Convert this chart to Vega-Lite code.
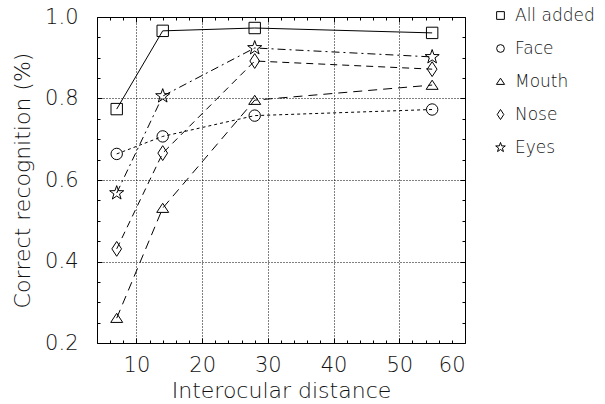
{
  "$schema": "https://vega.github.io/schema/vega-lite/v6.json",
  "width": 368,
  "height": 326,
  "autosize": {"type": "none"},
  "padding": {"left": 97, "top": 17, "right": 140, "bottom": 61},
  "background": "white",
  "config": {
    "view": {"stroke": "black", "strokeWidth": 1},
    "font": "DejaVu Sans",
    "axis": {"domain": false, "labelColor": "#111", "titleColor": "#111", "titleFontWeight": 200, "labelFontWeight": 200, "labelFont": "DejaVu Sans", "titleFont": "DejaVu Sans"}
  },
  "data": {
    "values": [
      {"series": "All added", "x": 7, "y": 0.774},
      {"series": "All added", "x": 14, "y": 0.966},
      {"series": "All added", "x": 28, "y": 0.973},
      {"series": "All added", "x": 55, "y": 0.961},
      {"series": "Face", "x": 7, "y": 0.664},
      {"series": "Face", "x": 14, "y": 0.707},
      {"series": "Face", "x": 28, "y": 0.758},
      {"series": "Face", "x": 55, "y": 0.773},
      {"series": "Mouth", "x": 7, "y": 0.261},
      {"series": "Mouth", "x": 14, "y": 0.531},
      {"series": "Mouth", "x": 28, "y": 0.796},
      {"series": "Mouth", "x": 55, "y": 0.833},
      {"series": "Nose", "x": 7, "y": 0.431},
      {"series": "Nose", "x": 14, "y": 0.666},
      {"series": "Nose", "x": 28, "y": 0.892},
      {"series": "Nose", "x": 55, "y": 0.872},
      {"series": "Eyes", "x": 7, "y": 0.568},
      {"series": "Eyes", "x": 14, "y": 0.806},
      {"series": "Eyes", "x": 28, "y": 0.924},
      {"series": "Eyes", "x": 55, "y": 0.902}
    ]
  },
  "resolve": {"axis": {"x": "independent", "y": "independent"}},
  "layer": [
    {
      "transform": [{"filter": "datum.series == 'All added'"}],
      "mark": {"type": "line", "color": "black", "strokeWidth": 1},
      "encoding": {
        "x": {
          "field": "x", "type": "quantitative",
          "scale": {"domain": [4, 60], "nice": false, "zero": false},
          "axis": {
            "orient": "bottom",
            "title": "Interocular distance",
            "titleFontSize": 22, "titlePadding": 5,
            "labelFontSize": 21, "labelPadding": 16,
            "values": [4,6,8,10,12,14,16,18,20,22,24,26,28,30,32,34,36,38,40,42,44,46,48,50,52,54,56,58,60],
            "labelExpr": "datum.value % 10 == 0 ? datum.label : ''",
            "tickColor": "black",
            "tickSize": {"condition": {"test": "datum.value % 10 == 0", "value": -5}, "value": -3},
            "grid": true,
            "gridColor": "black",
            "gridDash": [1, 2],
            "gridOpacity": {"condition": {"test": "datum.value % 10 == 0 && datum.value < 60", "value": 1}, "value": 0}
          }
        },
        "y": {
          "field": "y", "type": "quantitative",
          "scale": {"domain": [0.2, 1.0], "nice": false, "zero": false},
          "axis": {
            "orient": "left",
            "title": "Correct recognition (%)",
            "titleFontSize": 22, "titlePadding": 10,
            "labelFontSize": 21, "labelPadding": 24,
            "values": [0.2,0.25,0.3,0.35,0.4,0.45,0.5,0.55,0.6,0.65,0.7,0.75,0.8,0.85,0.9,0.95,1.0],
            "format": ".1f",
            "labelExpr": "abs(datum.value*10 - round(datum.value*10)) < 0.01 && round(datum.value*10) % 2 == 0 ? datum.label : ''",
            "tickColor": "black",
            "tickSize": {"condition": {"test": "abs(datum.value*10 - round(datum.value*10)) < 0.01 && round(datum.value*10) % 2 == 0", "value": -5}, "value": -3},
            "grid": true,
            "gridColor": "black",
            "gridDash": [1, 2],
            "gridOpacity": {"condition": {"test": "abs(datum.value*10 - round(datum.value*10)) < 0.01 && round(datum.value*10) % 2 == 0 && datum.value > 0.21 && datum.value < 0.99", "value": 1}, "value": 0}
          }
        }
      }
    },
    {
      "transform": [{"filter": "datum.series == 'Face'"}],
      "mark": {"type": "line", "color": "black", "strokeWidth": 1, "strokeDash": [3, 3]},
      "encoding": {
        "x": {"field": "x", "type": "quantitative", "axis": null},
        "y": {"field": "y", "type": "quantitative", "axis": null}
      }
    },
    {
      "transform": [{"filter": "datum.series == 'Mouth'"}],
      "mark": {"type": "line", "color": "black", "strokeWidth": 1, "strokeDash": [9, 6]},
      "encoding": {
        "x": {"field": "x", "type": "quantitative", "axis": null},
        "y": {"field": "y", "type": "quantitative", "axis": null}
      }
    },
    {
      "transform": [{"filter": "datum.series == 'Nose'"}],
      "mark": {"type": "line", "color": "black", "strokeWidth": 1, "strokeDash": [7, 5]},
      "encoding": {
        "x": {"field": "x", "type": "quantitative", "axis": null},
        "y": {"field": "y", "type": "quantitative", "axis": null}
      }
    },
    {
      "transform": [{"filter": "datum.series == 'Eyes'"}],
      "mark": {"type": "line", "color": "black", "strokeWidth": 1, "strokeDash": [8, 4, 2, 4]},
      "encoding": {
        "x": {"field": "x", "type": "quantitative", "axis": null},
        "y": {"field": "y", "type": "quantitative", "axis": null}
      }
    },
    {
      "mark": {"type": "point", "filled": false, "color": "black", "strokeWidth": 1, "size": 130, "opacity": 1},
      "encoding": {
        "x": {
          "field": "x", "type": "quantitative",
          "axis": {
            "orient": "top", "title": null, "labels": false, "grid": false,
            "values": [4,6,8,10,12,14,16,18,20,22,24,26,28,30,32,34,36,38,40,42,44,46,48,50,52,54,56,58,60],
            "tickColor": "black",
            "tickSize": {"condition": {"test": "datum.value % 10 == 0", "value": -5}, "value": -3}
          }
        },
        "y": {
          "field": "y", "type": "quantitative",
          "axis": {
            "orient": "right", "title": null, "labels": false, "grid": false,
            "values": [0.2,0.25,0.3,0.35,0.4,0.45,0.5,0.55,0.6,0.65,0.7,0.75,0.8,0.85,0.9,0.95,1.0],
            "tickColor": "black",
            "tickSize": {"condition": {"test": "abs(datum.value*10 - round(datum.value*10)) < 0.01 && round(datum.value*10) % 2 == 0", "value": -5}, "value": -3}
          }
        },
        "shape": {
          "field": "series", "type": "nominal",
          "scale": {
            "domain": ["All added", "Face", "Mouth", "Nose", "Eyes"],
            "range": ["square", "circle", "M0,-0.85L1.05,0.75L-1.05,0.75Z", "M0,-1.3L0.85,0L0,1.3L-0.85,0Z", "M0,-1.3L0.306,-0.421L1.236,-0.402L0.494,0.161L0.764,1.052L0,0.52L-0.764,1.052L-0.494,0.161L-1.236,-0.402L-0.306,-0.421Z"]
          },
          "legend": {
            "title": null,
            "orient": "none",
            "legendX": 395,
            "legendY": -10,
            "symbolSize": 60,
            "symbolStrokeColor": "black",
            "symbolStrokeWidth": 1,
            "symbolFillColor": "transparent",
            "labelFontSize": 17,
            "labelFontWeight": 200,
            "labelColor": "#111",
            "labelFont": "DejaVu Sans",
            "rowPadding": 15,
            "labelOffset": 6
          }
        }
      }
    }
  ]
}
